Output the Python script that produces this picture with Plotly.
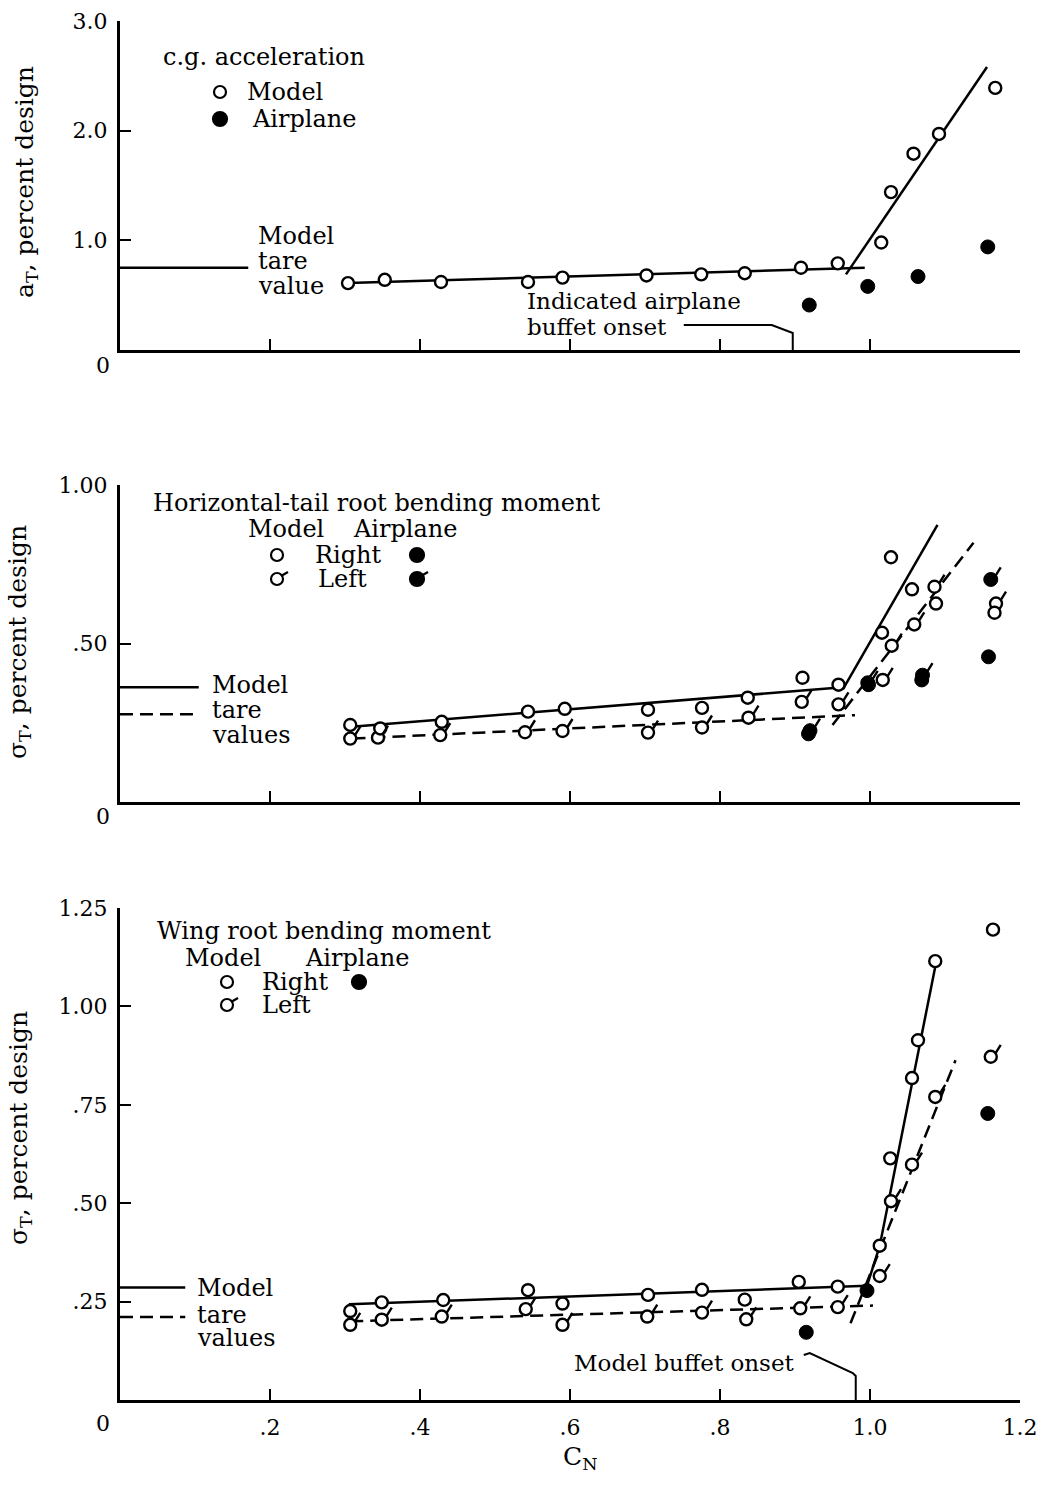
import plotly.graph_objects as go

W, H = 1043, 1487
FONT = "DejaVu Serif"

# ---------------- data: top panel, c.g. acceleration ----------------
CG_MODEL_CN = [0.304, 0.353, 0.428, 0.544, 0.590, 0.702, 0.775, 0.833, 0.908, 0.957,
               1.015, 1.028, 1.058, 1.092, 1.167]
CG_MODEL_A = [0.61, 0.64, 0.62, 0.62, 0.66, 0.68, 0.69, 0.70, 0.75, 0.79,
              0.98, 1.44, 1.79, 1.97, 2.39]
CG_AIRPLANE_CN = [0.919, 0.997, 1.064, 1.157]
CG_AIRPLANE_A = [0.41, 0.58, 0.67, 0.94]
CG_FAIR_LOW_CN = [0.304, 0.993]
CG_FAIR_LOW_A = [0.61, 0.75]
CG_FAIR_HIGH_CN = [0.968, 1.156]
CG_FAIR_HIGH_A = [0.69, 2.58]
CG_TARE = 0.75
CG_TARE_END = 0.171
AIRPLANE_BUFFET_ONSET_CN = 0.897

# ---------------- data: middle panel, horizontal-tail root bending ----------------
HT_R_CN = [0.307, 0.347, 0.429, 0.544, 0.593, 0.704, 0.776, 0.837, 0.910, 0.958,
           1.016, 1.028, 1.056, 1.088, 1.166]
HT_R_S = [0.243, 0.232, 0.253, 0.285, 0.294, 0.291, 0.297, 0.329, 0.392, 0.370,
          0.534, 0.772, 0.671, 0.626, 0.597]
HT_L_CN = [0.307, 0.344, 0.427, 0.540, 0.590, 0.704, 0.776, 0.838, 0.909, 0.958,
           1.017, 1.029, 1.059, 1.086, 1.168]
HT_L_S = [0.200, 0.203, 0.211, 0.220, 0.224, 0.219, 0.235, 0.266, 0.316, 0.308,
          0.385, 0.493, 0.560, 0.679, 0.626]
HT_AIR_R_CN = [0.918, 0.998, 1.069, 1.158]
HT_AIR_R_S = [0.215, 0.370, 0.385, 0.458]
HT_AIR_L_CN = [0.920, 0.997, 1.070, 1.161]
HT_AIR_L_S = [0.225, 0.376, 0.400, 0.702]
HT_FAIR_R_LOW_CN, HT_FAIR_R_LOW_S = [0.309, 0.964], [0.237, 0.362]
HT_FAIR_R_HIGH_CN, HT_FAIR_R_HIGH_S = [0.964, 1.090], [0.356, 0.874]
HT_FAIR_L_LOW_CN, HT_FAIR_L_LOW_S = [0.310, 0.980], [0.200, 0.274]
HT_FAIR_L_HIGH_CN, HT_FAIR_L_HIGH_S = [0.950, 1.138], [0.243, 0.818]
HT_TARE_R, HT_TARE_L = 0.362, 0.277
HT_TARE_END = 0.105

# ---------------- data: bottom panel, wing root bending ----------------
WR_R_CN = [0.307, 0.349, 0.431, 0.544, 0.590, 0.704, 0.776, 0.833, 0.905, 0.957,
           1.013, 1.027, 1.056, 1.064, 1.087, 1.164]
WR_R_S = [0.226, 0.248, 0.254, 0.279, 0.245, 0.267, 0.280, 0.255, 0.300, 0.288,
          0.392, 0.614, 0.818, 0.914, 1.115, 1.195]
WR_L_CN = [0.307, 0.349, 0.429, 0.541, 0.590, 0.703, 0.776, 0.835, 0.907, 0.957,
           1.013, 1.028, 1.056, 1.087, 1.161]
WR_L_S = [0.191, 0.204, 0.212, 0.231, 0.191, 0.212, 0.222, 0.205, 0.233, 0.236,
          0.315, 0.505, 0.598, 0.770, 0.872]
WR_AIR_CN = [0.915, 0.996, 1.157]
WR_AIR_S = [0.172, 0.278, 0.728]
WR_FAIR_R_LOW_CN, WR_FAIR_R_LOW_S = [0.305, 0.996], [0.243, 0.290]
WR_FAIR_R_HIGH_CN, WR_FAIR_R_HIGH_S = [0.996, 1.013, 1.089], [0.290, 0.392, 1.120]
WR_FAIR_L_LOW_CN, WR_FAIR_L_LOW_S = [0.307, 1.004], [0.200, 0.240]
WR_FAIR_L_HIGH_CN, WR_FAIR_L_HIGH_S = [0.974, 1.114], [0.195, 0.863]
WR_TARE_R, WR_TARE_L = 0.286, 0.211
WR_TARE_END = 0.087
MODEL_BUFFET_ONSET_CN = 0.981

X_TICKS = [0.2, 0.4, 0.6, 0.8, 1.0, 1.2]
X_TICK_TEXT = [".2", ".4", ".6", ".8", "1.0", "1.2"]
Y1_TICKS, Y1_TEXT = [1.0, 2.0, 3.0], ["1.0", "2.0", "3.0"]
Y2_TICKS, Y2_TEXT = [0.5, 1.0], [".50", "1.00"]
Y3_TICKS, Y3_TEXT = [0.25, 0.5, 0.75, 1.0, 1.25], [".25", ".50", ".75", "1.00", "1.25"]

LW = 2.5
DASH = "13px,7px"

fig = go.Figure()


def ax(k):
    return ("x", "y") if k == 1 else (f"x{k}", f"y{k}")


def add_line(k, x, y, dash=None):
    xa, ya = ax(k)
    fig.add_trace(go.Scatter(x=x, y=y, mode="lines", xaxis=xa, yaxis=ya,
                             line=dict(color="black", width=LW, dash=dash),
                             hoverinfo="skip", showlegend=False, cliponaxis=False))


def add_pts(k, x, y, filled=False):
    xa, ya = ax(k)
    if filled:
        mk = dict(symbol="circle", size=14, color="black", line=dict(color="black", width=1))
    else:
        mk = dict(symbol="circle", size=12, color="white", line=dict(color="black", width=2.4))
    fig.add_trace(go.Scatter(x=x, y=y, mode="markers", xaxis=xa, yaxis=ya, marker=mk,
                             hoverinfo="skip", showlegend=False, cliponaxis=False))


shapes = []


def add_flags(k, xs, ys):
    xa, ya = ax(k)
    for x, y in zip(xs, ys):
        shapes.append(dict(type="line", xref=xa, yref=ya, xsizemode="pixel", ysizemode="pixel",
                           xanchor=x, yanchor=y, x0=5, y0=4, x1=10, y1=12,
                           line=dict(color="black", width=2.4)))


# ---- top panel
add_line(1, [0, CG_TARE_END], [CG_TARE, CG_TARE])
add_line(1, CG_FAIR_LOW_CN, CG_FAIR_LOW_A)
add_line(1, CG_FAIR_HIGH_CN, CG_FAIR_HIGH_A)
add_pts(1, CG_MODEL_CN, CG_MODEL_A)
add_pts(1, CG_AIRPLANE_CN, CG_AIRPLANE_A, filled=True)

# ---- middle panel
add_line(2, [0, HT_TARE_END], [HT_TARE_R, HT_TARE_R])
add_line(2, [0, HT_TARE_END], [HT_TARE_L, HT_TARE_L], dash=DASH)
add_line(2, HT_FAIR_R_LOW_CN, HT_FAIR_R_LOW_S)
add_line(2, HT_FAIR_R_HIGH_CN, HT_FAIR_R_HIGH_S)
add_line(2, HT_FAIR_L_LOW_CN, HT_FAIR_L_LOW_S, dash=DASH)
add_line(2, HT_FAIR_L_HIGH_CN, HT_FAIR_L_HIGH_S, dash=DASH)
add_pts(2, HT_L_CN, HT_L_S)
add_pts(2, HT_R_CN, HT_R_S)
add_pts(2, HT_AIR_R_CN, HT_AIR_R_S, filled=True)
add_pts(2, HT_AIR_L_CN, HT_AIR_L_S, filled=True)
add_flags(2, HT_L_CN, HT_L_S)
add_flags(2, HT_AIR_L_CN, HT_AIR_L_S)

# ---- bottom panel
add_line(3, [0, WR_TARE_END], [WR_TARE_R, WR_TARE_R])
add_line(3, [0, WR_TARE_END], [WR_TARE_L, WR_TARE_L], dash=DASH)
add_line(3, WR_FAIR_R_LOW_CN, WR_FAIR_R_LOW_S)
add_line(3, WR_FAIR_R_HIGH_CN, WR_FAIR_R_HIGH_S)
add_line(3, WR_FAIR_L_LOW_CN, WR_FAIR_L_LOW_S, dash=DASH)
add_line(3, WR_FAIR_L_HIGH_CN, WR_FAIR_L_HIGH_S, dash=DASH)
add_pts(3, WR_L_CN, WR_L_S)
add_pts(3, WR_R_CN, WR_R_S)
add_pts(3, WR_AIR_CN, WR_AIR_S, filled=True)
add_flags(3, WR_L_CN, WR_L_S)

# ---- buffet onset leaders (pixel offsets anchored at onset CN on the axis)
shapes.append(dict(type="path", xref="x", yref="y", xsizemode="pixel", ysizemode="pixel",
                   xanchor=AIRPLANE_BUFFET_ONSET_CN, yanchor=0,
                   path="M -109,25 L -21,25 L 0,17 L 0,0",
                   line=dict(color="black", width=2)))
shapes.append(dict(type="path", xref="x3", yref="y3", xsizemode="pixel", ysizemode="pixel",
                   xanchor=MODEL_BUFFET_ONSET_CN, yanchor=0,
                   path="M -52,45 L -46,47 L -3,27 L 0,24 L 0,0",
                   line=dict(color="black", width=2)))


# ---- in-panel legend symbols (paper coordinates)
def px(x):
    return x / W


def py(y):
    return 1 - y / H


def legend_sym(x, y, filled=False, flag=False, r=6):
    shapes.append(dict(type="circle", xref="paper", yref="paper", xsizemode="pixel",
                       ysizemode="pixel", xanchor=px(x), yanchor=py(y),
                       x0=-r, x1=r, y0=-r, y1=r,
                       fillcolor="black" if filled else "white",
                       line=dict(color="black", width=2.2)))
    if flag:
        shapes.append(dict(type="line", xref="paper", yref="paper", xsizemode="pixel",
                           ysizemode="pixel", xanchor=px(x), yanchor=py(y),
                           x0=4, y0=3, x1=11, y1=7, line=dict(color="black", width=2.2)))


legend_sym(220, 92)
legend_sym(220, 119, filled=True, r=7)
legend_sym(277, 555)
legend_sym(277, 579, flag=True)
legend_sym(417, 555, filled=True, r=7)
legend_sym(417, 579, filled=True, flag=True, r=7)
legend_sym(227, 982)
legend_sym(227, 1005, flag=True)
legend_sym(359, 982, filled=True, r=7)

# ---- text
ann = []


def txt(s, x, y, size=24, xanchor="left", angle=0):
    ann.append(dict(text=s, x=px(x), y=py(y), xref="paper", yref="paper",
                    xanchor=xanchor, yanchor="middle", showarrow=False, textangle=angle,
                    font=dict(family=FONT, size=size, color="black")))


txt("c.g. acceleration", 161, 57)
txt("Model", 245, 92)
txt("Airplane", 250, 119)
txt("Model", 256, 236)
txt("tare", 256, 261)
txt("value", 256, 286)
txt("Indicated airplane", 525, 301, size=23)
txt("buffet onset", 525, 327, size=23)

txt("Horizontal-tail root bending moment", 151, 503)
txt("Model", 246, 529)
txt("Airplane", 351, 529)
txt("Right", 313, 555)
txt("Left", 316, 579)
txt("Model", 210, 685)
txt("tare", 210, 710)
txt("values", 210, 735)

txt("Wing root bending moment", 155, 931)
txt("Model", 183, 958)
txt("Airplane", 303, 958)
txt("Right", 260, 982)
txt("Left", 260, 1005)
txt("Model", 195, 1288)
txt("tare", 195, 1315)
txt("values", 195, 1338)
txt("Model buffet onset", 572, 1363, size=23)

for yy in (366, 816, 1423):
    txt("0", 103, yy, size=22, xanchor="center")

txt("a<sub>T</sub>, percent design", 26, 182, size=25, xanchor="center", angle=-90)
txt("σ<sub>T</sub>, percent design", 19, 642, size=25, xanchor="center", angle=-90)
txt("σ<sub>T</sub>, percent design", 20, 1128, size=25, xanchor="center", angle=-90)
txt("C<sub>N</sub>", 580, 1458, size=25, xanchor="center")

# ---- axes
XDOM = [120 / W, 1020 / W]
common = dict(showline=True, linecolor="black", linewidth=3, ticks="inside", ticklen=11,
              tickwidth=2, tickcolor="black", showgrid=False, zeroline=False,
              automargin=False,
              tickfont=dict(family=FONT, size=22, color="black"), fixedrange=True)


def xaxis(anchor, labels):
    d = dict(common, domain=XDOM, range=[0, 1.2], anchor=anchor, tickvals=X_TICKS,
             showticklabels=labels)
    if labels:
        d.update(ticktext=X_TICK_TEXT, ticklabelstandoff=6)
    return d


def yaxis(anchor, dom, rng, tv, tt):
    return dict(common, domain=dom, range=rng, anchor=anchor, tickvals=tv, ticktext=tt,
                ticklabelstandoff=5)


fig.update_layout(
    template="none",
    width=W, height=H, margin=dict(l=0, r=0, t=0, b=0, pad=0, autoexpand=False),
    font=dict(family=FONT, color="black"),
    paper_bgcolor="white", plot_bgcolor="white", showlegend=False,
    xaxis=xaxis("y", False),
    yaxis=yaxis("x", [py(350), py(21)], [0, 3.0], Y1_TICKS, Y1_TEXT),
    xaxis2=xaxis("y2", False),
    yaxis2=yaxis("x2", [py(802), py(485)], [0, 1.0], Y2_TICKS, Y2_TEXT),
    xaxis3=xaxis("y3", True),
    yaxis3=yaxis("x3", [py(1400), py(908)], [0, 1.25], Y3_TICKS, Y3_TEXT),
    shapes=shapes, annotations=ann,
)

fig.write_html("out.html", config={"displayModeBar": False},
               post_script="document.body.style.margin='0';"
                           "document.body.style.overflow='hidden';")
